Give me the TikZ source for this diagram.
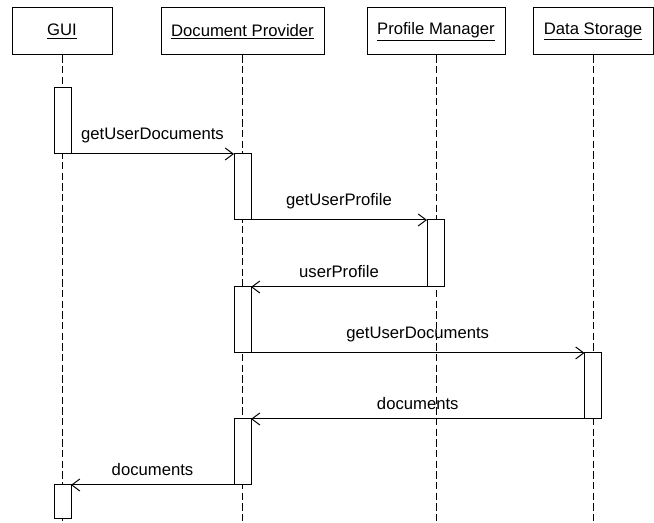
\documentclass[tikz,border=0pt]{standalone}
\usepackage{fontspec}
\setmainfont{Liberation Sans}
\usetikzlibrary{arrows.meta}

\tikzset{
    head/.style={thick, shape=rectangle, draw=black, line width=0.75pt, minimum height=35.25pt, inner sep=0pt, font=\fontsize{12.5}{14}\selectfont},
    bar/.style={shape=rectangle, draw=black, fill=white, line width=0.75pt, minimum width=12.75pt, minimum height=49.5pt, inner sep=0pt, outer sep=0pt},
    lifeline/.style={line width=0.75pt, dash pattern=on 5.5pt off 2.5pt},
    call/.style={line width=0.75pt, -{Straight Barb[length=6pt, width=9pt, line width=0.75pt]}},
    calllabel/.style={midway, anchor=base, yshift=11pt, inner sep=0pt, font=\fontsize{12.5}{14}\selectfont},
    retlabel/.style={midway, anchor=base, yshift=6.75pt, inner sep=0pt, font=\fontsize{12.5}{14}\selectfont}
}

\begin{document}
\begin{tikzpicture}[x=0.75pt, y=-0.75pt]
            \useasboundingbox (0,0) rectangle (654,523);

            % participants
            \node[head, minimum width=75pt    ] (gui)     at (62,31.5)  {\underline{GUI}};
            \node[head, minimum width=122.25pt] (docprov) at (242.5,31.5) {\underline{Document Provider}};
            \node[head, minimum width=103.5pt ] (profmgr) at (436,31.5) {\underline{Profile Manager}};
            \node[head, minimum width=90pt    ] (datastore) at (593,31.5) {\underline{Data Storage}};

            \coordinate (gui-end)       at (62,523);
            \coordinate (docprov-end)   at (242.5,523);
            \coordinate (profmgr-end)   at (436,523);
            \coordinate (datastore-end) at (593,523);

            \draw[lifeline] (gui.south)       -- (gui-end);
            \draw[lifeline] (docprov.south)   -- (docprov-end);
            \draw[lifeline] (profmgr.south)   -- (profmgr-end);
            \draw[lifeline] (datastore.south) -- (datastore-end);

            % activations
            \node[bar] (gui1) at (62.5,121)   {};
            \node[bar] (dp1)  at (242.5,187)  {};
            \node[bar, minimum height=50.25pt] (pm1) at (435.5,253.5) {};
            \node[bar] (dp2)  at (242.5,320)  {};
            \node[bar] (ds1)  at (593,386)    {};
            \node[bar] (dp3)  at (242.5,452)  {};
            \node[bar, minimum height=25.5pt] (gui2) at (62.5,502) {};

            % messages
            \draw[call] (gui1.south east) -- (dp1.north west)  node[calllabel] {getUserDocuments};
            \draw[call] (dp1.south east)  -- (pm1.north west)  node[calllabel] {getUserProfile};
            \draw[call] (pm1.south west)  -- (dp2.north east)  node[retlabel]  {userProfile};
            \draw[call] (dp2.south east)  -- (ds1.north west)  node[calllabel] {getUserDocuments};
            \draw[call] (ds1.south west)  -- (dp3.north east)  node[retlabel]  {documents};
            \draw[call] (dp3.south west)  -- (gui2.north east) node[retlabel]  {documents};
        \end{tikzpicture}
\end{document}
